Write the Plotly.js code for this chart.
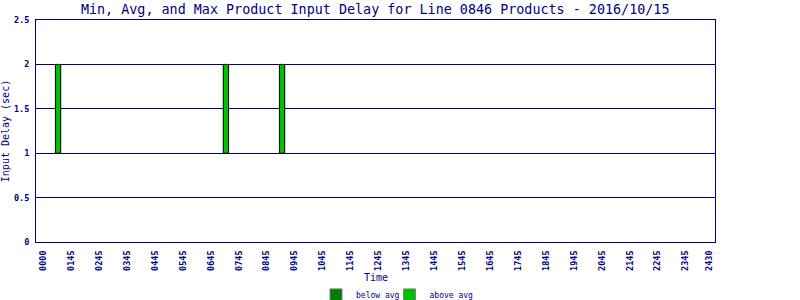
<!DOCTYPE html>
<html>
<head>
<meta charset="utf-8">
<script src="https://cdn.plot.ly/plotly-3.0.1.min.js"></script>
<style>html,body{margin:0;padding:0;background:#fff;}#chart{width:800px;height:300px;}</style>
</head>
<body>
<div id="chart"></div>
<script>
// Tick labels along the time axis (one slot per label)
const tickLabels = ["0000","0145","0245","0345","0445","0545","0645","0745","0845","0945","1045","1145",
                    "1245","1345","1445","1545","1645","1745","1845","1945","2045","2145","2245","2345","2430"];
const tickSlots = [0,1,2,3,4,5,6,7,8,9,10,11,12,13,14,15,16,17,18,19,20,21,22,23,23.83];
// Product delay data (slot position on time axis, min / avg / max delay in sec)
const timeSlots = [0.53, 6.54, 8.55];
const minDelay = [1, 1, 1];
const avgDelay = [1, 1, 1];
const maxDelay = [2, 2, 2];

const belowLen = timeSlots.map((_, i) => avgDelay[i] - minDelay[i]);
const aboveLen = timeSlots.map((_, i) => maxDelay[i] - avgDelay[i]);

const navy = '#000080';
const monoFont = 'DejaVu Sans Mono';

const traces = [
  {type:'bar', x: timeSlots, y: belowLen, base: minDelay, width: 0.19, showlegend:false,
   marker:{color:'#008000', line:{color:'#000000', width:1}}, hoverinfo:'skip'},
  {type:'bar', x: timeSlots, y: aboveLen, base: avgDelay, width: 0.19, showlegend:false,
   marker:{color:'#00c000', line:{color:'#000000', width:1}}, hoverinfo:'skip'},
  {type:'bar', x:[null], y:[null], name:'below avg', legend:'legend',
   marker:{color:'#008000', line:{color:'#808080', width:1}}},
  {type:'bar', x:[null], y:[null], name:'above avg', legend:'legend2',
   marker:{color:'#00c000', line:{color:'#808080', width:1}}}
];

const legendFont = {family:monoFont, size:8, color:navy};

const layout = {
  width: 800, height: 300,
  margin: {l:36, r:85, t:20, b:58, pad:0},
  paper_bgcolor:'#ffffff', plot_bgcolor:'#ffffff',
  barmode:'overlay',
  title: {text:'Min, Avg, and Max Product Input Delay for Line 0846 Products - 2016/10/15',
          font:{family:monoFont, size:13.4, color:navy}, x:0.469, xanchor:'center', y:0.97, yanchor:'middle'},
  xaxis: {range:[-0.26, 24.05], tickvals: tickSlots, ticktext: tickLabels, tickangle:-90,
          tickfont:{family:monoFont, size:8.5, color:navy, weight:'bold'},
          showgrid:false, zeroline:false, showline:true, linecolor:navy, linewidth:1, mirror:true,
          ticks:'', ticklabelstandoff:4},
  yaxis: {range:[0, 2.5], tickvals:[0,0.5,1,1.5,2,2.5], ticktext:['0','0.5','1','1.5','2','2.5'],
          tickfont:{family:monoFont, size:8.5, color:navy, weight:'bold'},
          showgrid:true, gridcolor:navy, gridwidth:1, zeroline:false,
          showline:true, linecolor:navy, linewidth:1, mirror:true, ticks:'', ticklabelstandoff:4,
          title:{text:'Input Delay (sec)', font:{family:monoFont, size:10, color:navy}, standoff:3}},
  annotations: [{text:'Time', xref:'paper', yref:'paper', x:0.5, y:-0.158, xanchor:'center', yanchor:'middle',
                 showarrow:false, font:{family:monoFont, size:10, color:navy}}],
  legend: {orientation:'h', xref:'container', x:0.395, xanchor:'left', yref:'container', y:0.017, yanchor:'middle',
           font:legendFont, itemwidth:30, bgcolor:'rgba(0,0,0,0)'},
  legend2: {orientation:'h', xref:'container', x:0.4869, xanchor:'left', yref:'container', y:0.017, yanchor:'middle',
           font:legendFont, itemwidth:30, bgcolor:'rgba(0,0,0,0)'},
  showlegend:true
};

Plotly.newPlot('chart', traces, layout, {staticPlot:true, displayModeBar:false});
</script>
</body>
</html>
